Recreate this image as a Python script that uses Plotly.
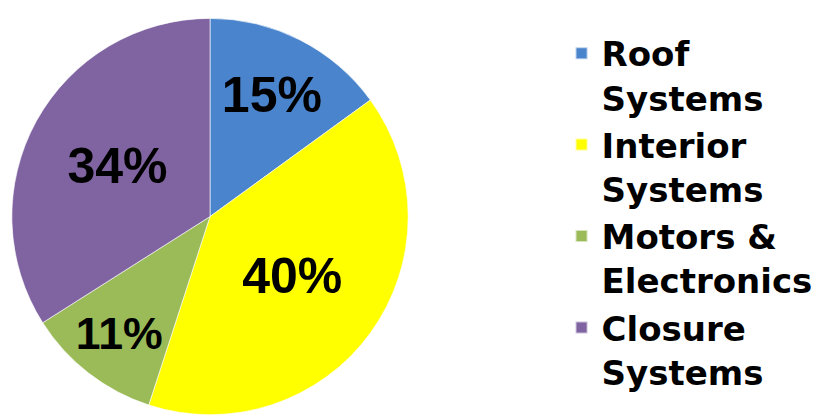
import plotly.graph_objects as go

categories = ["Roof<br>Systems", "Interior<br>Systems", "Motors &<br>Electronics", "Closure<br>Systems"]
values = [15, 40, 11, 34]
colors = ["#4A84CC", "#FFFF00", "#9BBB59", "#8064A2"]

fig = go.Figure(go.Pie(
    labels=categories,
    values=values,
    sort=False,
    direction="clockwise",
    rotation=0,
    marker=dict(colors=colors, line=dict(color="rgba(255,255,255,0.6)", width=1)),
    textinfo="percent",
    texttemplate="%{percent:.0%}",
    textposition="inside",
    insidetextorientation="horizontal",
    textfont=dict(family="Liberation Sans", size=50, color="black", weight="bold"),
    domain=dict(x=[0.0, 0.481], y=[0.02, 0.975]),
    hoverinfo="label+percent",
))

fig.update_layout(
    width=840, height=415,
    margin=dict(l=0, r=0, t=0, b=0),
    paper_bgcolor="white",
    plot_bgcolor="white",
    showlegend=True,
    legend=dict(
        x=0.659, y=0.96, xanchor="left", yanchor="top",
        font=dict(family="DejaVu Sans", size=34, color="black", weight="bold"),
        valign="top",
        itemsizing="constant",
        tracegroupgap=0,
        bgcolor="rgba(0,0,0,0)",
    ),
)

fig.write_html("out.html")
